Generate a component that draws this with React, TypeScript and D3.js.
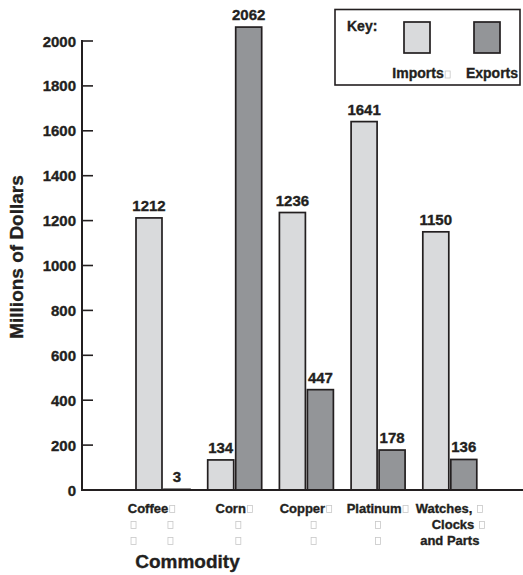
import React, { useEffect, useRef } from "react";
import * as d3 from "d3";

const categories = ["Coffee", "Corn", "Copper", "Platinum", "Watches, Clocks and Parts"];
const seriesNames = ["Imports", "Exports"];
const importValues = [1212, 134, 1236, 1641, 1150];
const exportValues = [3, 2062, 447, 178, 136];
const yTickValues = [0, 200, 400, 600, 800, 1000, 1200, 1400, 1600, 1800, 2000];
// "□" marks the small placeholder boxes printed in the original labels
const categoryLabelLines = [
  ["Coffee□", "□        □", "□        □"],
  ["Corn□", "  □", "  □"],
  ["Copper□", "    □", "    □"],
  ["Platinum□", "□", "□"],
  ["Watches, □", "     Clocks □", "and Parts"],
];
const legendLabels = ["Imports□", "Exports"];
const yTitle = "Millions of Dollars";
const xTitle = "Commodity";
const keyTitle = "Key:";

const W = 523;
const H = 575;
const INK = "#231f20";
const FONT = "'Liberation Sans', Arial, Helvetica, sans-serif";
const COLORS = ["#d9dadc", "#939598"];
const labelShift = [-11, 0, 0, 0, 0];
const TEXT_STROKE = 0.35;

export default function App() {
  const ref = useRef<SVGSVGElement | null>(null);

  useEffect(() => {
    const svg = d3.select(ref.current);
    svg.selectAll("*").remove();

    const y = d3.scaleLinear().domain([0, 2000]).range([490, 41]);
    const step = 71.7;
    const pi = 0.247;
    const x = d3
      .scaleBand<string>()
      .domain(categories)
      .range([136, 136 + step * (categories.length - pi)])
      .paddingInner(pi)
      .paddingOuter(0);
    const xs = d3
      .scaleBand<string>()
      .domain(seriesNames)
      .range([0, x.bandwidth()])
      .paddingInner(0.0714)
      .paddingOuter(0);

    const g = svg.append("g");

    const boldText = (sel: any, size: number) =>
      sel
        .attr("font-family", FONT)
        .attr("font-weight", "bold")
        .attr("font-size", size)
        .attr("fill", INK)
        .attr("stroke", INK)
        .attr("stroke-width", TEXT_STROKE);

    // bars
    const data = categories.flatMap((c, i) => [
      { c, s: "Imports", v: importValues[i], k: 0 },
      { c, s: "Exports", v: exportValues[i], k: 1 },
    ]);
    g.selectAll("rect.bar")
      .data(data)
      .join("rect")
      .attr("class", "bar")
      .attr("x", (d) => (x(d.c) as number) + (xs(d.s) as number))
      .attr("y", (d) => y(d.v))
      .attr("width", xs.bandwidth())
      .attr("height", (d) => y(0) - y(d.v))
      .attr("fill", (d) => COLORS[d.k])
      .attr("stroke", INK)
      .attr("stroke-width", 1.7);

    // value labels
    boldText(
      g.selectAll("text.val")
        .data(data)
        .join("text")
        .attr("class", "val")
        .attr("x", (d: any) => (x(d.c) as number) + (xs(d.s) as number) + xs.bandwidth() / 2)
        .attr("y", (d: any) => y(d.v) - 7)
        .attr("text-anchor", "middle"),
      15
    ).text((d: any) => String(d.v));

    // y axis
    const axisX = 82;
    g.append("line")
      .attr("x1", axisX)
      .attr("x2", axisX)
      .attr("y1", y(2000) - 1)
      .attr("y2", y(0))
      .attr("stroke", INK)
      .attr("stroke-width", 2);
    g.append("line")
      .attr("x1", axisX - 1)
      .attr("x2", W)
      .attr("y1", y(0))
      .attr("y2", y(0))
      .attr("stroke", INK)
      .attr("stroke-width", 2);
    g.selectAll("line.tick")
      .data(yTickValues.filter((t) => t > 0))
      .join("line")
      .attr("class", "tick")
      .attr("x1", axisX)
      .attr("x2", axisX + 11)
      .attr("y1", (d) => y(d))
      .attr("y2", (d) => y(d))
      .attr("stroke", INK)
      .attr("stroke-width", 1.6);
    boldText(
      g.selectAll("text.tl")
        .data(yTickValues)
        .join("text")
        .attr("class", "tl")
        .attr("x", axisX - 6)
        .attr("y", (d: any) => y(d) + 5.5)
        .attr("text-anchor", "end"),
      15
    ).text((d: any) => String(d));

    // y title
    boldText(
      g.append("text")
        .attr("transform", `translate(23,257) rotate(-90)`)
        .attr("text-anchor", "middle"),
      19
    ).text(yTitle);

    // x title
    boldText(
      g.append("text").attr("x", 187.5).attr("y", 568).attr("text-anchor", "middle"),
      19
    ).text(xTitle);

    // measuring helper
    const measure = (txt: string, size: number) => {
      if (!txt) return 0;
      const t = svg
        .append("text")
        .attr("font-family", FONT)
        .attr("font-weight", "bold")
        .attr("font-size", size)
        .style("white-space", "pre")
        .text(txt);
      const w = (t.node() as SVGTextElement).getComputedTextLength();
      t.remove();
      return w;
    };

    const BOX_W = 5;
    const BOX_H = 7;
    const drawLine = (line: string, cx: number, baseline: number, size: number) => {
      const parts = line.split("□");
      const widths = parts.map((p) => measure(p, size));
      const nBoxes = parts.length - 1;
      const total = widths.reduce((a, b) => a + b, 0) + nBoxes * (BOX_W + 3);
      let cur = cx - total / 2;
      parts.forEach((p, i) => {
        if (p.trim().length) {
          boldText(
            g.append("text").attr("x", cur).attr("y", baseline).style("white-space", "pre"),
            size
          ).text(p);
        }
        cur += widths[i];
        if (i < nBoxes) {
          g.append("rect")
            .attr("x", cur + 1.5)
            .attr("y", baseline - BOX_H)
            .attr("width", BOX_W)
            .attr("height", BOX_H)
            .attr("fill", "none")
            .attr("stroke", "#c8c8c8")
            .attr("stroke-width", 0.8);
          cur += BOX_W + 3;
        }
      });
    };

    // category labels
    categories.forEach((c, i) => {
      const cx = (x(c) as number) + x.bandwidth() / 2 + labelShift[i];
      categoryLabelLines[i].forEach((line, j) => {
        drawLine(line, cx, 512.5 + j * 16, 13);
      });
    });

    // legend
    g.append("rect")
      .attr("x", 335)
      .attr("y", 9.5)
      .attr("width", 185)
      .attr("height", 75.5)
      .attr("fill", "white")
      .attr("stroke", INK)
      .attr("stroke-width", 1.6);
    boldText(g.append("text").attr("x", 347).attr("y", 31), 14).text(keyTitle);
    seriesNames.forEach((s, k) => {
      const sx = 404 + k * 70;
      g.append("rect")
        .attr("x", sx)
        .attr("y", 22)
        .attr("width", 26)
        .attr("height", 31)
        .attr("fill", COLORS[k])
        .attr("stroke", INK)
        .attr("stroke-width", 1.7);
      drawLine(legendLabels[k], sx + 13 + 5, 78, 14);
    });
  }, []);

  return (
    <svg ref={ref} width={W} height={H} style={{ display: "block", position: "absolute", left: 0, top: 0, background: "white" }} />
  );
}
